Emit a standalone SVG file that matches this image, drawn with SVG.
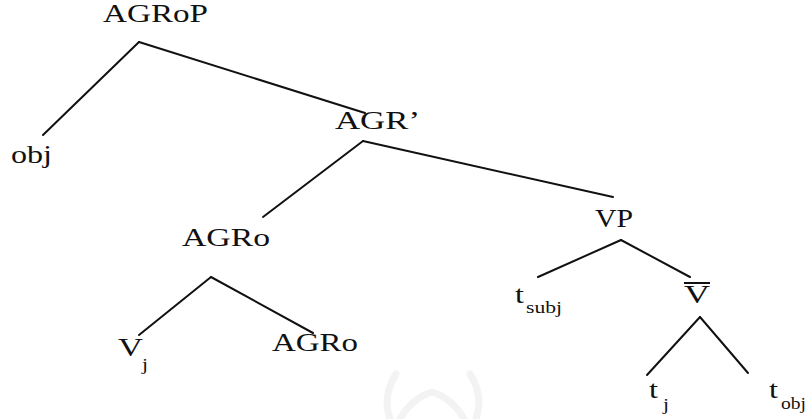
<svg xmlns="http://www.w3.org/2000/svg" width="806" height="419" viewBox="0 0 806 419">
<style>
.lbl{font-family:"Liberation Serif","Times New Roman",serif;font-size:24.5px;fill:#111}
.sub{font-family:"Liberation Serif","Times New Roman",serif;font-size:16.5px;fill:#111}
.edge{stroke:#111;stroke-width:2;fill:none;stroke-linecap:round}
.wm{stroke:#f3f3f3;stroke-width:7;fill:none;stroke-linecap:round}
</style>
<rect width="806" height="419" fill="#fff"/>
<g id="watermark">
<path class="wm" d="M396,374 Q382,396 390,419"/>
<path class="wm" d="M470,374 Q484,396 476,419"/>
<path class="wm" d="M400,419 Q412,398 432,392 Q452,398 464,419"/>
</g>
<g id="connectors">
<line class="edge" x1="139" y1="42" x2="43" y2="135"/>
<line class="edge" x1="139" y1="42" x2="365" y2="113"/>
<line class="edge" x1="363" y1="141" x2="263" y2="217"/>
<line class="edge" x1="363" y1="141" x2="613" y2="197"/>
<line class="edge" x1="211" y1="277" x2="139" y2="335"/>
<line class="edge" x1="211" y1="277" x2="313" y2="333"/>
<line class="edge" x1="621" y1="240" x2="538" y2="277"/>
<line class="edge" x1="621" y1="240" x2="690" y2="277"/>
<line class="edge" x1="700" y1="317" x2="647" y2="375"/>
<line class="edge" x1="700" y1="317" x2="748" y2="373"/>
</g>
<g id="n-agrop"><text class="lbl" x="103" y="22" textLength="105" lengthAdjust="spacingAndGlyphs">AGRoP</text></g>
<g id="n-obj"><text class="lbl" x="11" y="163" textLength="41" lengthAdjust="spacingAndGlyphs">obj</text></g>
<g id="n-agrbar"><text class="lbl" x="335" y="129" textLength="85" lengthAdjust="spacingAndGlyphs">AGR’</text></g>
<g id="n-agro1"><text class="lbl" x="182" y="246" textLength="88" lengthAdjust="spacingAndGlyphs">AGRo</text></g>
<g id="n-vp"><text class="lbl" x="595" y="227" textLength="38" lengthAdjust="spacingAndGlyphs">VP</text></g>
<g id="n-tsubj"><text class="lbl" x="515" y="303" textLength="9" lengthAdjust="spacingAndGlyphs">t</text><text class="sub" x="526" y="313" textLength="36" lengthAdjust="spacingAndGlyphs">subj</text></g>
<g id="n-vbar"><line x1="684" y1="283" x2="710" y2="283" stroke="#111" stroke-width="2"/><text class="lbl" x="684" y="303" textLength="26" lengthAdjust="spacingAndGlyphs">V</text></g>
<g id="n-vj"><text class="lbl" x="118" y="356" textLength="25" lengthAdjust="spacingAndGlyphs">V</text><text class="sub" x="142" y="370" textLength="6" lengthAdjust="spacingAndGlyphs">j</text></g>
<g id="n-agro2"><text class="lbl" x="272" y="351" textLength="86" lengthAdjust="spacingAndGlyphs">AGRo</text></g>
<g id="n-tj"><text class="lbl" x="649" y="398" textLength="9" lengthAdjust="spacingAndGlyphs">t</text><text class="sub" x="663" y="410" textLength="6" lengthAdjust="spacingAndGlyphs">j</text></g>
<g id="n-tobj"><text class="lbl" x="769" y="398" textLength="9" lengthAdjust="spacingAndGlyphs">t</text><text class="sub" x="781" y="409" textLength="25" lengthAdjust="spacingAndGlyphs">obj</text></g>
</svg>
